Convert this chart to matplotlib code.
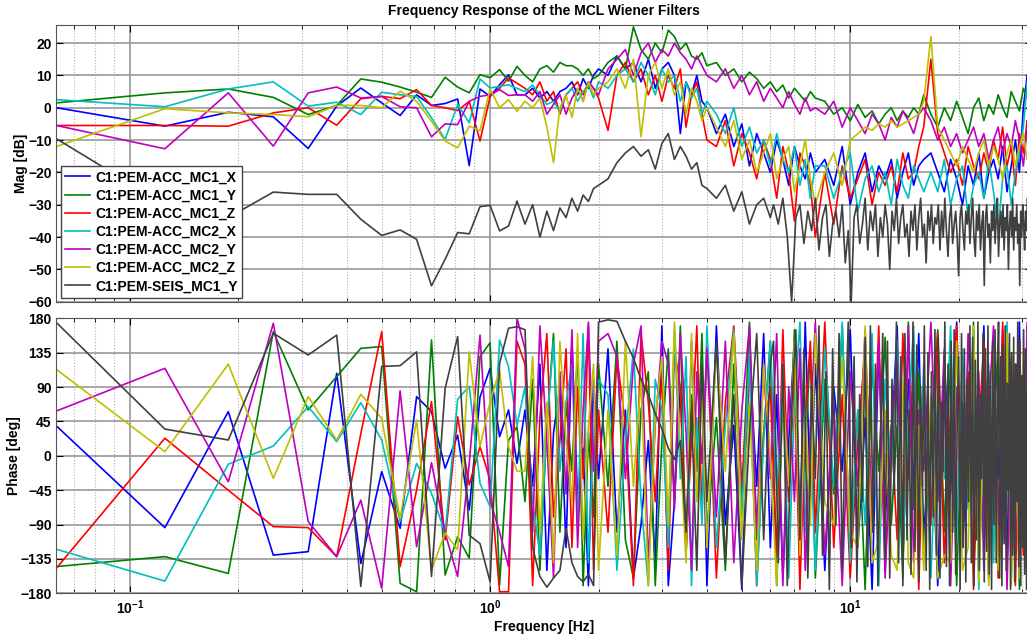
import numpy as np
import matplotlib.pyplot as plt

plt.rcParams['font.family'] = ['Liberation Sans', 'DejaVu Sans']
plt.rcParams['font.weight'] = 'bold'
plt.rcParams['axes.labelweight'] = 'bold'
plt.rcParams['axes.titleweight'] = 'bold'
plt.rcParams['font.size'] = 10

# channel names and matlab-style colours
channels = ['C1:PEM-ACC_MC1_X', 'C1:PEM-ACC_MC1_Y', 'C1:PEM-ACC_MC1_Z',
            'C1:PEM-ACC_MC2_X', 'C1:PEM-ACC_MC2_Y', 'C1:PEM-ACC_MC2_Z',
            'C1:PEM-SEIS_MC1_Y']
colors = ['#0000ff', '#008000', '#ff0000', '#00bfbf', '#bf00bf', '#bfbf00', '#404040']

# fft bins (df = 0.0625 Hz), thinned out at high frequency
bins = np.r_[np.arange(1, 33), np.arange(34, 65, 2), np.arange(68, 129, 4),
             np.arange(136, 257, 8), np.arange(268, 513, 12)]
freq = 0.0625 * bins
# the seismometer trace is drawn on a finer grid above 6 Hz
bins_seis = np.r_[np.arange(1, 33), np.arange(34, 65, 2), np.arange(68, 97, 4),
                  np.arange(98, 513, 3)]
freq_seis = 0.0625 * bins_seis

# magnitude [dB]
mag_mc1_x = [0, -5.7, -1.4, -2.8, -12.6, 0.5, 6.1, 1.5, -2.4, 4, 0.7, 1.3, 2.7, -17.9, 5.8, 3.5, 7.1, 10.2, 4,
             4, 6, 3, 5, 2, 5, 6, 8, 4, 9, 6, 10, 12,
             10, 16, 12, 14, 8, 15, 6, 12, 14, 10, -8, 8, 4, 10, 2, 0,
             -8, -2, -12, -5, -18, -8, -14, -20, -10, -16, -24, -12, -18, -22, -14, -20,
             -16, -24, -12, -30, -20, -14, -26, -18, -22, -16, -28, -20, -14, -24, -18, -16,
             -14, -20, -26, -16, -22, -30, -18, -24, -14, -28, -20, -16, -22, -12, -26, -18, -10, -20, 0, 10, -6]
mag_mc1_y = [1.5, 4.6, 5.8, 3.2, -2.1, 0.7, 8.9, 7.9, 6.4, 4.8, 3.2, 9.4, 6.4, 4.6, 10.2, 9.3, 11.8, 8.2, 12.8,
             10, 8, 12, 13, 11, 14, 13, 13, 12, 10, 12, 9, 10,
             14, 16, 12, 25, 18, 15, 20, 17, 24, 22, 18, 20, 16, 15, 17, 13,
             14, 10, 12, 8, 11, 9, 6, 8, 5, 7, 3, 6, 4, 2, 5, 3,
             2, -2, 0, -4, 1, -3, -1, -5, -2, 0, -4, -1, -3, 0, -2, 4,
             -2, -6, 0, -4, 2, -3, -8, 0, 3, -4, 1, -2, 4, 0, -3, 5, 2, -1, 6, 3, 0]
mag_mc1_z = [-5.5, -5.5, -5.7, -1.6, 0, -5.4, 2.8, 3.5, 2.8, 5.6, 0.7, 0, -0.9, 2, -10.3, 3.5, 6, 9.2, 7.6,
             6, 4, 8, 2, 5, -2, 4, 6, 8, 4, 8, 6, 3,
             -7, 10, 14, 8, 12, 4, 10, 2, 10, 6, 12, -6, 4, 8, -2, -10,
             -12, -4, -18, -8, -14, -22, -10, -16, -28, -12, -20, -35, -14, -18, -24, -40,
             -20, -36, -18, -28, -22, -16, -30, -20, -24, -18, -26, -14, -22, -20, -12, -6,
             15, -8, -14, -20, -16, -24, -12, -18, -22, -14, -20, -10, -16, -6, -18, -12, -24, -8, -14, -4, -10]
mag_mc2_x = [2.5, 0.3, 5.8, 8, 0.5, 1.7, -2.1, 4.8, 4, 3.5, -3.1, -9.8, 1, -4.7, 8.9, 6.1, 6.6, 7.1, 6,
             5, 7, 4, 1, 2, -1, 4, 6, 2, 5, 7, 3, 8,
             6, 10, 12, 8, 14, 10, 4, 12, 8, 10, 2, 8, 3, 6, -2, 2,
             -2, -8, 0, -12, -6, -14, -10, -18, -8, -16, -20, -12, -24, -16, -28, -18,
             -18, -28, -20, -14, -32, -22, -18, -26, -20, -30, -16, -24, -28, -18, -22, -26,
             -20, -26, -16, -30, -22, -18, -34, -24, -20, -28, -16, -26, -38, -22, -18, -30, -20, -14, -6, 8, -10]
mag_mc2_y = [-5.5, -12.7, 4.6, -11.9, 4.6, 6.4, 3, 3.5, 0.3, 0, -9, -5, -5.2, 2, 3.5, 4, 5.6, 3.8, 4,
             4, 2, 5, -2, 1, 4, -2, 3, 6, 2, 8, 6, 4,
             12, 15, 18, 10, 17, 20, 14, 18, 16, 20, 17, 15, 12, 16, 13, 10,
             8, 12, 6, 10, 4, 8, 2, 6, 3, 0, 5, 1, -2, 3, -1, 0,
             -2, 2, -6, 0, -4, -8, -2, -5, -10, -3, -6, -1, -4, -8, -2, 0,
             -4, -10, -6, -12, -8, -14, -10, -6, -12, -8, -16, -10, -6, -14, -8, -12, -4, -10, -18, -6, -8]
mag_mc2_z = [-12, -0.3, -1.6, -2.1, -2.8, 0.7, 0.7, 0, 5.1, 2, -4.2, -10.3, -12.4, -5.7, -7.1, 5.8, 0, 2.5, -1.1,
             2, 0, 3, -6, -17, 0, 4, -3, 6, 2, 8, 4, 6,
             8, 12, 6, 15, -9, 10, 14, 6, 12, 4, 8, -2, 6, 2, -4, 0,
             -6, -12, -4, -16, -10, -20, -14, -8, -22, -16, -12, -26, -18, -10, -22, -30,
             -20, -14, -24, -10, -8, -6, -7, -5, -6, -4, -6, -5, -4, -3, -2, 2,
             22, -6, -10, -14, -18, -12, -16, -20, -14, -10, -18, -12, -16, -22, -14, -10, -18, -12, -8, -16, -12]
mag_seis = [-9.6, -30, -34, -26.1, -26.8, -26.8, -34.5, -39.5, -37.8, -40.7, -55.1, -46.9, -38.6, -39, -30.6, -30.2, -38.1, -36.6, -28.9,
            -36, -30, -40, -32, -38, -31, -34, -28, -32, -27, -29, -25, -24,
            -22, -17, -14, -12, -15, -13, -19, -11, -8, -16, -12, -15, -19, -17, -24, -25,
            -28, -24, -32, -26, -36, -30, -28, -34,
            -30, -36, -28, -40, -60, -34, -30, -42, -32, -38, -28, -44, -34, -30, -46, -36, -32, -40, -30, -48,
            -38, -60, -34, -30, -42, -36, -28, -44, -32, -38, -30, -46, -34, -40, -30, -36, -50, -32, -38, -28,
            -42, -34, -30, -40, -36, -46, -32, -38, -30, -44, -34, -28, -40, -36, -48, -32, -38, -30, -42, -34,
            -36, -30, -44, -32, -40, -28, -38, -46, -34, -30, -42, -36, -32, -40, -52, -34, -30, -38, -44, -32,
            -36, -30, -42, -34, -28, -40, -46, -32, -38, -30, -44, -36, -32, -55, -34, -30, -40, -36, -48, -32,
            -38, -30, -42, -34, -28, -46, -36, -32, -40, -30, -44, -34, -38, -30, -50, -36, -32, -40, -28, -44,
            -34, -38, -30, -42, -36, -55, -32, -40, -30, -36, -44, -32, -38, -28, -34, -40, -30, -36, -32]

# phase [deg]
ph_mc1_x = [39, -94, 57.8, -130, -125.5, 108, -141, -20.7, -95, 77.4, 58, -16.4, 27, -71, 77, 114.5, 25, 60, -10,
            60, -40, 120, -150, 30, 90, -120, 150, -60, 10, -170, 100, -30,
            140, -100, 60, -160, -90, 20, -140, 170, -170, -60, 90, -130, 150, -20, 110, -170,
            170, -90, 40, -175, 130, -40, 160, -120, 80, -160, 20, 150, -100, 175, -60, 120,
            -150, 90, -20, 165, -120, 50, -175, 140, -80, 10, 170, -140, 100, -40, 160, -110,
            60, -170, 130, -50, 175, -120, 20, 150, -90, 170, -160, 80, -30, 165, -140, 110, -70, 175, -115, 45, 160]
ph_mc1_y = [-145, -132, -154, 162.5, 60, 103.6, 140.7, 143, -167, -178, 151.6, -156, -106, -134, 130, 148, -169, 20, 38,
            -60, 100, -150, 40, 160, -100, 70, -20, 140, -170, 30, -80, 120,
            -40, 150, -110, -160, 60, 110, -170, 20, 140, -60, 170, -130, 80, -20, 160, -100,
            50, -150, 120, -60, 175, -110, 30, 150, -170, 80, -40, 165, -120, 10, 140, -160,
            100, -50, 170, -130, 60, -175, 120, -20, 155, -90, 40, -160, 175, -70, 110, -140,
            30, 165, -100, 140, -170, 70, -40, 175, -130, 90, -160, 20, 150, -110, 170, -60, 120, -175, 80, -20, 140]
ph_mc1_z = [-147, 23, -45, -92.7, -94, -132, 29, 162.5, -145, -45, 71, -110, 51, -38, 12, -32, -178, -178, 150,
            120, -170, 50, 160, -80, 20, 140, -120, 90, -30, 170, -150, 60,
            -100, 130, 40, -170, 160, 70, -60, 110, -150, 140, 90, -120, 20, 170, -80, 150,
            -160, 70, 170, -40, 120, -170, 30, 90, -130, 165, -60, 110, -175, 50, 150, -100,
            175, -120, 80, -160, 20, 140, -70, 170, -150, 40, -110, 160, -30, 130, -175, 60,
            -90, 160, -140, 60, 170, -50, 110, -175, 30, 150, -120, 80, -160, 175, -20, 130, -170, 60, -130, 170, -60]
ph_mc2_x = [-122.4, -164, -11, 12.8, 64.4, 18.5, 69.6, 20.7, -86, -10, -49, -101, 74, 91, -36, -66.6, 151.6, 116.7, 40,
            90, -60, -130, 40, 150, -20, 70, 120, -90, 160, -140, 30, 100,
            80, -150, 20, 140, -60, -170, 100, 60, -120, 165, -30, 130, -170, 50, -90, 170,
            -120, 40, 165, -80, 130, -170, 20, 150, -50, 110, -160, 70, 175, -100, 30, -150,
            140, -40, 175, -140, 60, -90, 160, -170, 100, -20, 150, -120, 50, 170, -80, 120,
            -160, 80, -30, 170, -110, 140, -70, 160, -175, 40, 120, -140, 90, -50, 175, -160, 20, 130, -100, 160, -40]
ph_mc2_y = [58.7, 114.5, -34, 173.5, -86, -132, -58, -173.5, 85, -119, -9, -101, -158, -10, 158, -58, -100, -145, 180,
            140, -100, 170, 20, -160, 110, -50, 165, -120, 60, 175, -20, 150,
            160, 130, -30, 120, 170, -140, 40, 150, 120, -70, 160, 30, -150, 110, -10, 140,
            -80, 150, -140, 60, 170, -100, 120, -30, 160, -170, 90, -60, 140, -150, 40, 175,
            -130, 70, -170, 110, -40, 165, -100, 150, -160, 30, 120, -80, 170, -140, 60, -20,
            175, -60, 140, -170, 90, -120, 160, -30, 110, -150, 60, 170, -90, 130, -175, 40, -110, 150, -60, 175, -130]
ph_mc2_z = [113, 5.4, 120, -29.5, 77.4, 20.7, 80.5, 49, -82, 47, -149.5, -101, -123, 136, 12, 71, 112, 12, -20,
            -20, 130, -100, 70, -140, 150, 20, -60, 160, -110, 40, 120, -150,
            60, -130, 150, -40, 100, -170, 50, 130, -90, 175, 10, -140, 160, -60, 90, -120,
            140, -20, 160, -110, 70, -150, 120, 0, -170, 90, -40, 150, -130, 60, -90, 160,
            -60, -90, 130, -100, -120, 170, -140, -110, 60, -130, -150, 100, -140, -160, 40, -150,
            80, -160, -130, -140, 150, -150, -120, 170, -165, 60, -170, 130, -150, -100, 160, -170, 20, -160, 140, -120, 90]
ph_seis = [174.3, 35, 20.7, 160.4, 132, 158, -171, 117, 118, 136, -158, 88, 156, -104, -115, -165, 121, 167, 169,
           165, -120, -158, -172, -160, -150, -95, -140, -158, -165, -155, -170, 175,
           178, 176, 150, 128, 100, 80, 55, 35, 10, -5, 20, -100, 60, -150, 120, -60,
           150, -140, 80, -170, 30, 160, -110, 120,
           150, -140, 120, -170, 60, 165, -110, 140, -160, 90, -30, 170, -130, 110, -175, 140, -90, 160, -150, 40,
           175, -120, 130, -165, 80, -60, 155, -145, 170, -100, 120, -170, 20, 160, -135, 150, -160, 100, -50, 175,
           -140, 130, -170, 160, -110, 60, -155, 175, -125, 145, -165, 90, -40, 170, -150, 135, -175, 110, -80, 165,
           -130, 155, -160, 70, -20, 175, -145, 120, -170, 150, -100, 165, -155, 45, 130, -175, 160, -120, 140, -165,
           100, -60, 170, -140, 155, -170, 125, -110, 175, -150, 80, -30, 160, -165, 140, -125, 170, -155, 110, -175,
           150, -90, 165, -140, 60, 175, -160, 130, -170, 145, -115, 170, -150, 95, -45, 160, -175, 135, -130, 155,
           -165, 120, -60, 175, -145, 150, -170, 105, -120, 165, -155, 140, -175, 80, 160, -140, 170, -160, 150]

mags = [mag_mc1_x, mag_mc1_y, mag_mc1_z, mag_mc2_x, mag_mc2_y, mag_mc2_z, mag_seis]
phases = [ph_mc1_x, ph_mc1_y, ph_mc1_z, ph_mc2_x, ph_mc2_y, ph_mc2_z, ph_seis]
freqs = [freq] * 6 + [freq_seis]

fig = plt.figure(figsize=(10.27, 6.37), dpi=100)
ax1 = fig.add_axes([0.055, 0.5264, 0.95, 0.4344])
ax2 = fig.add_axes([0.055, 0.0686, 0.95, 0.4317])

for name, c, f, m, p in zip(channels, colors, freqs, mags, phases):
    ax1.semilogx(f, m, color=c, lw=1.2, label=name)
    ax2.semilogx(f, p, color=c, lw=1.2)

for ax in (ax1, ax2):
    ax.set_xlim(0.0625, 32)
    ax.grid(True, which='major', color='#a0a0a0', lw=1.3, ls='-')
    ax.grid(True, which='minor', axis='x', color='#b0b0b0', lw=0.8, ls=':')
    ax.tick_params(which='both', direction='in', top=True, right=True)
    ax.tick_params(which='major', length=5)
    ax.tick_params(which='minor', length=3)
    for s in ax.spines.values():
        s.set_color('#555555')
    ax.set_axisbelow(True)

ax1.set_ylim(-60, 25.6)
ax1.set_yticks(np.arange(-60, 21, 10))
ax1.tick_params(labelbottom=False)
ax1.set_ylabel('Mag [dB]')
ax1.yaxis.set_label_coords(-0.029, 0.5)
ax1.set_title('Frequency Response of the MCL Wiener Filters', fontsize=10, pad=7)
ax1.legend(loc='lower left', borderaxespad=0.3, fancybox=False, edgecolor='#444444',
           framealpha=1, handlelength=1.8, labelspacing=0.3, handletextpad=0.4, borderpad=0.3)

ax2.set_ylim(-180, 180)
ax2.set_yticks(np.arange(-180, 181, 45))
ax2.set_ylabel('Phase [deg]')
ax2.yaxis.set_label_coords(-0.036, 0.5)
ax2.set_xlabel('Frequency [Hz]', labelpad=2)

fig.savefig('out.png', dpi=100)
